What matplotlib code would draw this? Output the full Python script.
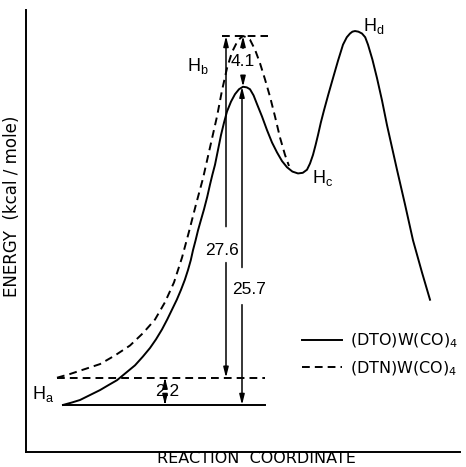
import matplotlib
matplotlib.use("Agg")
import matplotlib.pyplot as plt

# reaction coordinate (arbitrary units) / energy (kcal/mole)
solid_x = [9.25, 11.5, 13.5, 16, 18.5, 20.6, 22.75, 25, 27.25, 29.2, 31, 32.5, 34,
           35.3, 36.5, 37.7, 38.75, 39.7, 40.5, 41.2, 41.75, 42.4, 43, 43.7, 44.5,
           45.3, 46, 46.6, 47.25, 48, 48.75, 49.5, 50.25, 51.25, 52.25, 53.25, 54.25,
           55.2, 56, 56.9, 57.75, 59, 60.25, 61.5, 62.75, 64, 65.25, 66.6, 68, 69.2,
           70.25, 71, 71.75, 72.4, 73, 73.7, 74.5, 75.6, 76.75, 78, 79.25, 80.2, 81,
           81.6, 82.25, 83.1, 84, 84.8, 85.5, 86.6, 87.75, 89, 90.25, 91.5, 92.75,
           94.75, 96.75, 99, 101]
solid_e = [0, 0.2, 0.4, 0.8, 1.2, 1.6, 2.0, 2.6, 3.2, 3.9, 4.6, 5.3, 6.1,
           6.9, 7.7, 8.5, 9.3, 10.1, 10.9, 11.7, 12.5, 13.3, 14.1, 14.9, 15.8,
           16.8, 17.8, 18.6, 19.4, 20.6, 21.8, 22.8, 23.7, 24.5, 25.1, 25.5, 25.7,
           25.65, 25.5, 25.0, 24.3, 23.3, 22.2, 21.2, 20.4, 19.7, 19.2, 18.85, 18.7, 18.75,
           19.0, 19.5, 20.2, 21.0, 21.8, 22.8, 23.8, 25.1, 26.4, 27.8, 29.1, 29.7, 30.0,
           30.15, 30.2, 30.15, 30.0, 29.7, 29.1, 27.9, 26.4, 24.6, 22.6, 20.8, 19.0,
           16.2, 13.3, 10.7, 8.5]

dashed_x = [7.75, 11, 14.75, 18.5, 22.25, 26, 29.25, 32.25, 34.75, 37, 39, 40.75,
            42.5, 44.25, 46, 47.75, 49, 50.25, 51.5, 52.75, 53.5, 54.25, 55.1, 56,
            57.25, 58.5, 59.75, 61, 62.25, 63.5, 64.75, 65.75]
dashed_e = [2.2, 2.5, 2.9, 3.3, 4.0, 4.8, 5.8, 6.9, 8.3, 9.9, 11.9, 14.0,
            16.2, 18.3, 20.8, 23.3, 25.4, 27.2, 28.5, 29.3, 29.6, 29.8, 29.7, 29.5,
            28.7, 27.6, 26.3, 24.9, 23.3, 21.6, 20.2, 19.3]

solid_base = 0.0
dashed_base = 2.2
solid_peak = 25.7
dashed_peak = 29.8
barriers = ["27.6", "25.7", "4.1", "2.2"]
legend_labels = ["(DTO)W(CO)$_\\mathregular{4}$", "(DTN)W(CO)$_\\mathregular{4}$"]

fig = plt.figure(figsize=(4.66, 4.67), dpi=100)
ax = fig.add_axes([26 / 466, 15 / 467, 434 / 466, 442 / 467])
ax.set_xlim(0, 108.5)
ax.set_ylim(-3.8, 31.9)
for s in ["top", "right"]:
    ax.spines[s].set_visible(False)
ax.spines["left"].set_linewidth(1.4)
ax.spines["bottom"].set_linewidth(1.4)
ax.set_xticks([])
ax.set_yticks([])

lw = 1.4
dash = (4, 2.6)
l1, = ax.plot(solid_x, solid_e, color="black", lw=lw, solid_joinstyle="round")
l2, = ax.plot(dashed_x, dashed_e, color="black", lw=lw, dashes=dash)

# energy levels
ax.plot([9.25, 59.75], [solid_base, solid_base], color="black", lw=lw)
ax.plot([7.75, 59.75], [dashed_base, dashed_base], color="black", lw=lw, dashes=dash)
ax.plot([49, 60.5], [dashed_peak, dashed_peak], color="black", lw=lw, dashes=dash)

ap = dict(arrowstyle="-|>,head_length=0.6,head_width=0.15", color="black",
          lw=1.1, shrinkA=0, shrinkB=0, mutation_scale=10)


def arrow(x, e0, e1):
    ax.annotate("", xy=(x, e1), xytext=(x, e0), arrowprops=ap)


num_font = dict(family="Liberation Sans", fontsize=12.5, ha="center", va="center")

# 27.6
arrow(50, 14.4, dashed_peak)
arrow(50, 11.5, dashed_base)
ax.text(49, 12.5, barriers[0], **num_font)
# 25.7
arrow(54, 11.1, solid_peak)
arrow(54, 8.1, solid_base)
ax.text(55.7, 9.3, barriers[1], **num_font)
# 4.1
arrow(54.25, 28.8, dashed_peak)
arrow(54.25, 26.6, solid_peak)
ax.text(54.25, 27.7, barriers[2], **num_font)
# 2.2
arrow(34.75, 1.75, dashed_base)
arrow(34.75, 0.45, solid_base)
ax.text(35.25, 1.05, barriers[3], **num_font)

h_font = dict(family="Liberation Sans", fontsize=13, ha="left", va="center")
ax.text(1.6, 0.9, "H$_\\mathregular{a}$", **h_font)
ax.text(40.2, 27.4, "H$_\\mathregular{b}$", **h_font)
ax.text(71.5, 18.3, "H$_\\mathregular{c}$", **h_font)
ax.text(84.2, 30.6, "H$_\\mathregular{d}$", **h_font)

ax.legend([l1, l2], legend_labels, frameon=False, loc="upper left",
          bbox_to_anchor=(302 / 466, 1 - 332 / 467), bbox_transform=fig.transFigure,
          prop=dict(family="DejaVu Sans", size=11.5), handlelength=2.5,
          handletextpad=0.5, labelspacing=0.55, borderpad=0, borderaxespad=0)

fig.text(12 / 466, 1 - 206 / 467, "ENERGY  (kcal / mole)", rotation=90,
         ha="center", va="center", fontsize=12, family="DejaVu Sans")
fig.text(256 / 466, 1 / 467, "REACTION  COORDINATE", ha="center",
         va="bottom", fontsize=11.5, family="DejaVu Sans")

fig.savefig("out.png", dpi=100, facecolor="white")
